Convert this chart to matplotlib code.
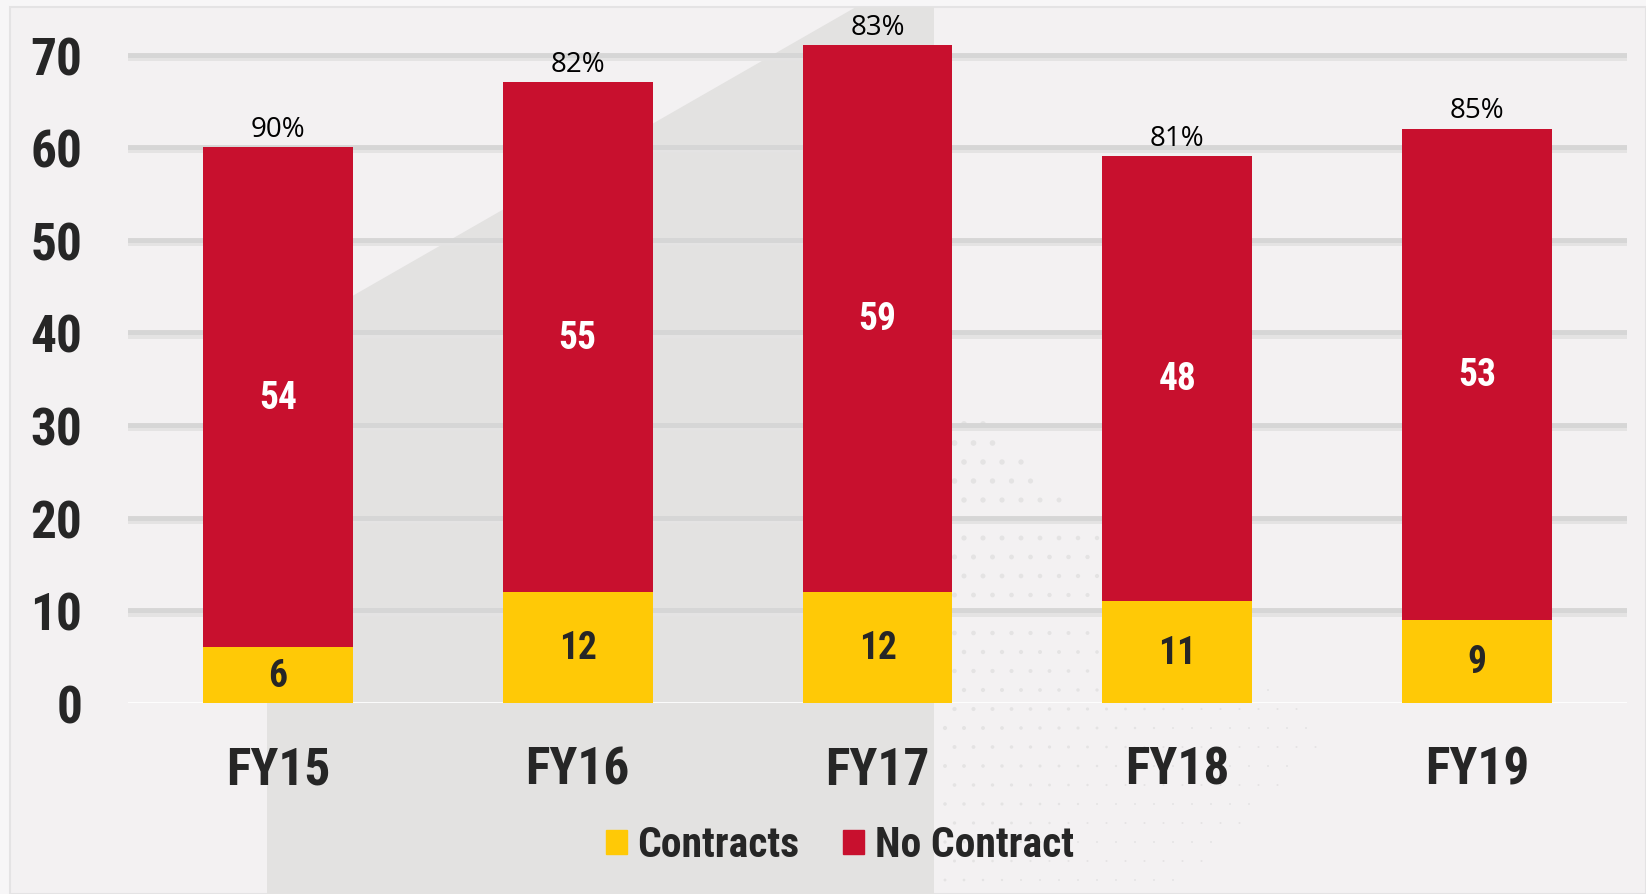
import numpy as np
import matplotlib.pyplot as plt
from matplotlib.patches import Polygon, Patch, Rectangle

# Data
years = ['FY15', 'FY16', 'FY17', 'FY18', 'FY19']
contracts = [6, 12, 12, 11, 9]
no_contract = [54, 55, 59, 48, 53]
pct_labels = ['90%', '82%', '83%', '81%', '85%']

YELLOW = '#FFC906'
RED = '#C8102E'
DARK = '#262626'
BOLD = ['Roboto Condensed', 'Barlow Semi Condensed', 'Barlow Condensed', 'DejaVu Sans']

W, H = 1646, 895
fig = plt.figure(figsize=(W / 100, H / 100), dpi=100)
fig.patch.set_facecolor('#F7F6F7')


def px(x, y):
    # pixel position -> figure fraction
    return (x / W, 1 - y / H)


# card background and grey wedge behind the plot
fig.add_artist(Rectangle(px(10, H), (W - 10) / W, (H - 8) / H, transform=fig.transFigure,
                         facecolor='#F3F1F2', edgecolor='#E4E3E4', lw=1.5, zorder=-3))
wedge = [px(267, H), px(267, 346), px(856, 8), px(934, 8), px(934, H)]
fig.add_artist(Polygon(wedge, closed=True, transform=fig.transFigure,
                       facecolor='#E3E2E1', edgecolor='none', zorder=-2))

# faint halftone dots right of the wedge
gx, gy = np.meshgrid(np.arange(0, 520, 19.0), np.arange(0, 480, 19.0))
gx = gx + (np.arange(gx.shape[0])[:, None] % 2) * 9.5
dx, dy = gx.ravel(), gy.ravel()
keep = (dx < dy * 1.1 + 40) & (dx + dy < 700)
dx, dy = dx[keep], dy[keep]
sizes = np.clip(18 - 0.03 * (dx + dy), 2, None)
dots = fig.add_axes([0, 0, 1, 1], zorder=-1)
dots.set_xlim(0, W)
dots.set_ylim(H, 0)
dots.axis('off')
dots.scatter(945 + dx, 425 + dy, s=sizes, color='#D2D2D2', alpha=0.45, lw=0)

# main axes
ax = fig.add_axes([128 / W, 1 - 704 / H, (1627 - 128) / W, (704 - 37) / H])
ax.set_facecolor('none')
ax.set_zorder(1)
x = np.arange(len(years))
ax.set_xlim(-0.5, 4.5)
ax.set_ylim(0, 72)

for y in range(10, 80, 10):
    ax.axhline(y - 0.25, color='#E4E3E3', lw=5, zorder=0.5)
    ax.axhline(y, color='#D6D6D6', lw=3.5, zorder=0.6)
ax.axhline(0, color='white', lw=2, zorder=0.7)

totals = [c + n for c, n in zip(contracts, no_contract)]
ax.bar(x, contracts, width=0.5, color=YELLOW, zorder=2)
ax.bar(x, no_contract, width=0.5, bottom=contracts, color=RED, zorder=2)

for i in range(len(years)):
    ax.text(x[i], contracts[i] / 2, str(contracts[i]), ha='center', va='center',
            color=DARK, fontsize=27, fontweight='bold', family=BOLD, zorder=3)
    ax.text(x[i], contracts[i] + no_contract[i] / 2, str(no_contract[i]), ha='center',
            va='center', color='white', fontsize=27, fontweight='bold', family=BOLD, zorder=3)
    ax.text(x[i], totals[i] + 0.5, pct_labels[i], ha='center', va='bottom',
            color='black', fontsize=20, family=['Open Sans', 'DejaVu Sans'], zorder=3,
            clip_on=False)

for s in ax.spines.values():
    s.set_visible(False)
ax.set_yticks(range(0, 80, 10))
ax.set_xticks(x)
ax.set_xticklabels(years)
ax.tick_params(length=0)
ax.tick_params(axis='y', pad=33)
ax.tick_params(axis='x', pad=30)
for lab in ax.get_xticklabels() + ax.get_yticklabels():
    lab.set_family(BOLD)
    lab.set_fontweight('bold')
    lab.set_fontsize(37)
    lab.set_color(DARK)

handles = [Patch(color=YELLOW, label='Contracts'), Patch(color=RED, label='No Contract')]
leg = fig.legend(handles=handles, loc='center', bbox_to_anchor=px(840, 846), ncol=2,
                 frameon=False, handlelength=0.5, handleheight=0.5, handletextpad=0.25,
                 columnspacing=1.05, prop={'family': BOLD, 'weight': 'bold', 'size': 30})
for t in leg.get_texts():
    t.set_color(DARK)

fig.savefig('out.png', dpi=100, facecolor=fig.get_facecolor())
